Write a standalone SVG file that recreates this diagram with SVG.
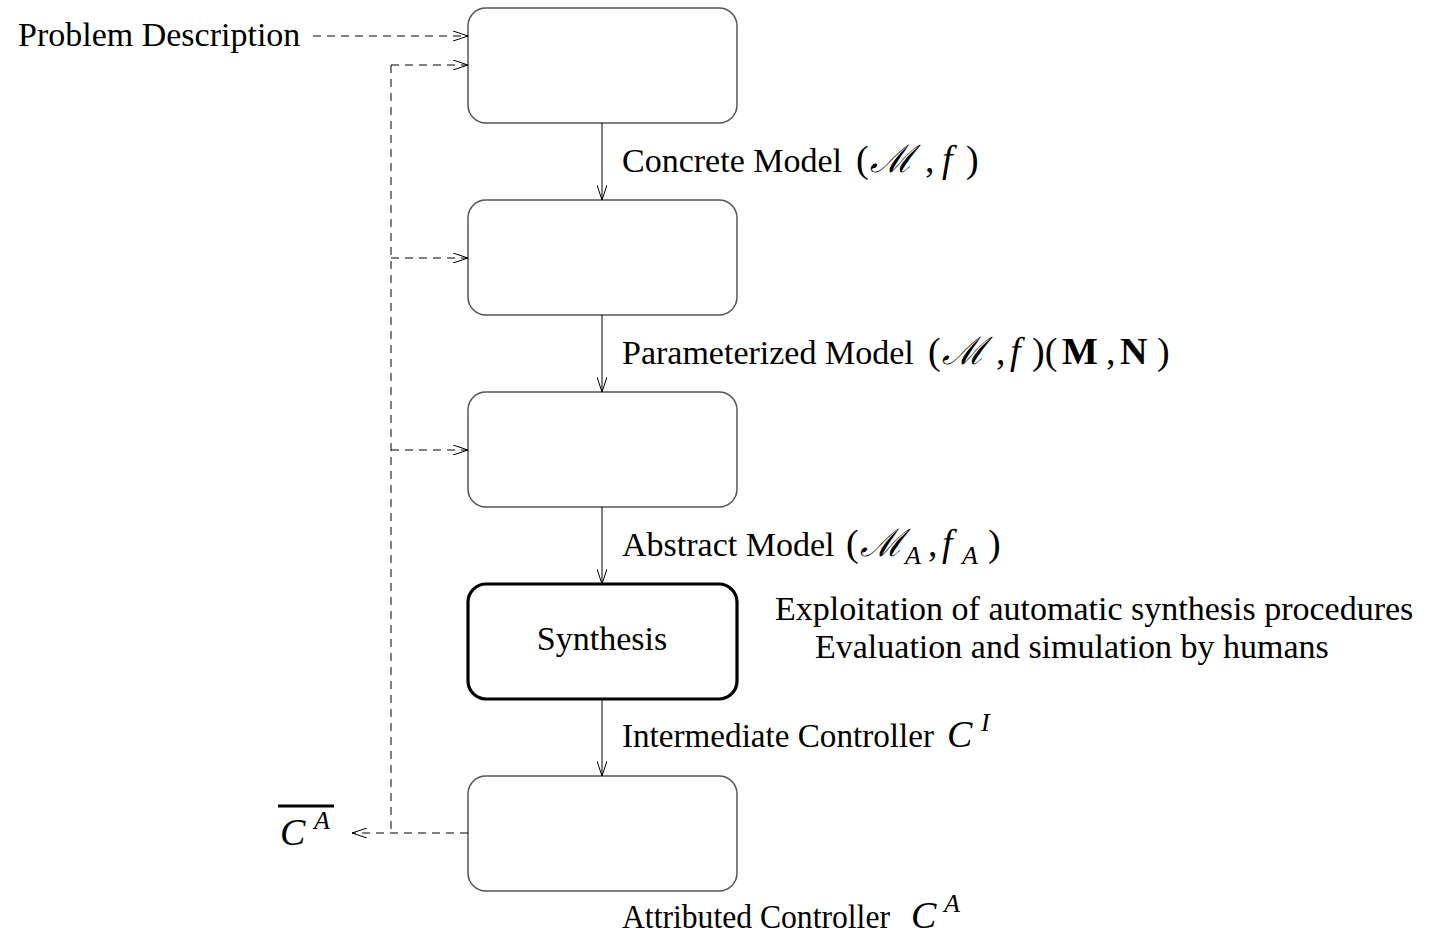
<svg xmlns="http://www.w3.org/2000/svg" width="1439" height="936" viewBox="0 0 1439 936">
<style>
.box{fill:#fff;stroke:#555;stroke-width:1.5}
.bold{fill:#fff;stroke:#000;stroke-width:3.2}
.t{font-family:"Liberation Serif","Times New Roman",serif;font-size:34px;fill:#000}
.m{font-family:"Liberation Serif","Times New Roman",serif;font-size:38px}
.i{font-style:italic}
.sc{font-family:"DejaVu Serif","Liberation Serif",serif;font-style:italic;font-size:38px}
.sub{font-family:"Liberation Serif","Times New Roman",serif;font-style:italic;font-size:26px}
.flow{stroke:#000;stroke-width:1;fill:none}
.dash{stroke:#000;stroke-width:1;fill:none;stroke-dasharray:8,6}
</style>
<defs>
<marker id="ah" markerWidth="16" markerHeight="10" refX="15" refY="5" orient="auto" markerUnits="userSpaceOnUse">
<path d="M0,0 L15,5 L0,10" fill="none" stroke="#000" stroke-width="1"/>
</marker>
</defs>
<g id="n1"><rect class="box" x="468" y="8" width="269" height="115" rx="18"/></g>
<g id="n2"><rect class="box" x="468" y="200" width="269" height="115" rx="18"/></g>
<g id="n3"><rect class="box" x="468" y="392" width="269" height="115" rx="18"/></g>
<g id="n4"><rect class="bold" x="468" y="584" width="269" height="115" rx="18"/>
<text class="t" x="602" y="650" text-anchor="middle">Synthesis</text></g>
<g id="n5"><rect class="box" x="468" y="776" width="269" height="115" rx="18"/></g>
<g id="connectors">
<line class="flow" x1="602" y1="123" x2="602" y2="200" marker-end="url(#ah)"/>
<line class="flow" x1="602" y1="315" x2="602" y2="392" marker-end="url(#ah)"/>
<line class="flow" x1="602" y1="507" x2="602" y2="584" marker-end="url(#ah)"/>
<line class="flow" x1="602" y1="699" x2="602" y2="776" marker-end="url(#ah)"/>
<line class="dash" x1="313" y1="36" x2="468" y2="36" marker-end="url(#ah)"/>
<line class="dash" x1="391" y1="65" x2="468" y2="65" marker-end="url(#ah)"/>
<line class="dash" x1="391" y1="258" x2="468" y2="258" marker-end="url(#ah)"/>
<line class="dash" x1="391" y1="450" x2="468" y2="450" marker-end="url(#ah)"/>
<line class="dash" x1="391" y1="65" x2="391" y2="833"/>
<line class="dash" x1="468" y1="833" x2="352" y2="833" marker-end="url(#ah)"/>
</g>
<g id="labels">
<text class="t" x="18" y="46">Problem Description</text>
<text class="t" x="622" y="172">Concrete Model <tspan class="m" x="856">(</tspan><tspan class="sc" x="870">ℳ</tspan><tspan class="m" x="925">,</tspan><tspan class="m i" x="942">f</tspan><tspan class="m" x="966">)</tspan></text>
<text class="t" x="622" y="364">Parameterized Model <tspan class="m" x="928">(</tspan><tspan class="sc" x="942">ℳ</tspan><tspan class="m" x="996">,</tspan><tspan class="m i" x="1010">f</tspan><tspan class="m" x="1032">)(</tspan><tspan class="m" font-weight="bold" x="1062">M</tspan><tspan class="m" x="1106">,</tspan><tspan class="m" font-weight="bold" x="1120">N</tspan><tspan class="m" x="1157">)</tspan></text>
<text class="t" x="622" y="556">Abstract Model <tspan class="m" x="846">(</tspan><tspan class="sc" x="860">ℳ</tspan><tspan class="sub" x="905" dy="8">A</tspan><tspan class="m" x="928" dy="-8">,</tspan><tspan class="m i" x="942">f</tspan><tspan class="sub" x="962" dy="8">A</tspan><tspan class="m" x="988" dy="-8">)</tspan></text>
<text class="t" x="775" y="620">Exploitation of automatic synthesis procedures</text>
<text class="t" x="815" y="658">Evaluation and simulation by humans</text>
<text class="t" x="622" y="747" textLength="312" lengthAdjust="spacingAndGlyphs">Intermediate Controller</text>
<text class="m i" x="947" y="747" font-size="40">C<tspan class="sub" x="981" dy="-16">I</tspan></text>
<text class="t" x="622" y="928" textLength="268" lengthAdjust="spacingAndGlyphs">Attributed Controller</text>
<text class="m i" x="911" y="928" font-size="40">C<tspan class="sub" x="944" dy="-16">A</tspan></text>
<text class="m i" x="280" y="845" font-size="40">C<tspan class="sub" x="314" dy="-16">A</tspan></text>
<line x1="278" y1="806" x2="334" y2="806" stroke="#000" stroke-width="3"/>
</g>
</svg>
